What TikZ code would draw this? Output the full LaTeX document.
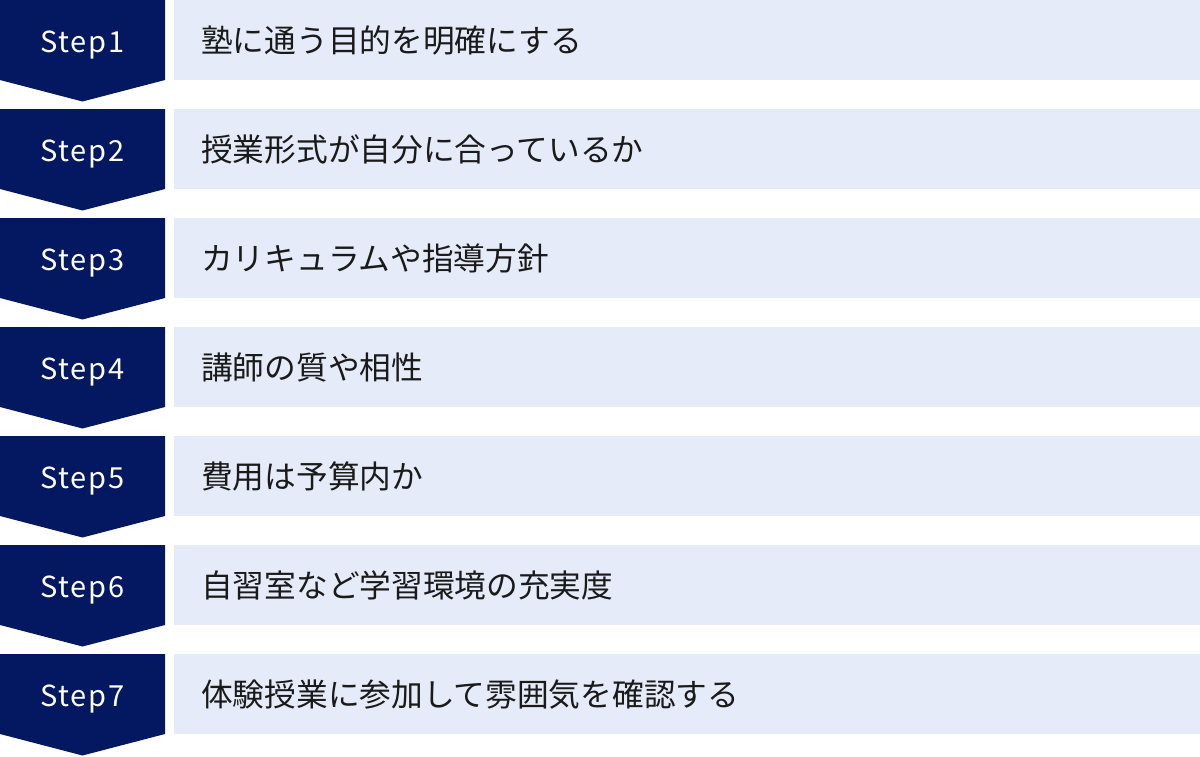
\documentclass[tikz,border=0pt]{standalone}
\usepackage{fontspec}
\setmainfont{Noto Sans CJK JP}
\newfontfamily\stepfont[LetterSpace=6]{Noto Sans CJK JP}
\definecolor{navy}{HTML}{041761}
\definecolor{pale}{HTML}{E5EBF8}
\definecolor{ink}{HTML}{1A1A1A}
\tikzset{
  stepbadge/.style={fill=navy, draw=none},
  itembox/.style={fill=pale, draw=none, minimum width=1026pt, minimum height=80pt, inner sep=0pt, outer sep=0pt, anchor=north west},
  itemtext/.style={anchor=base west, text=ink, font=\fontsize{31.7pt}{36pt}\selectfont, inner sep=0pt},
  steplabel/.style={anchor=base, text=white, font=\stepfont\fontsize{29pt}{32pt}\selectfont, inner sep=0pt}
}
\begin{document}
\begin{tikzpicture}[x=1pt,y=-1pt]
\useasboundingbox (0,0) rectangle (1200,756);
\foreach \i/\t in {1/塾に通う目的を明確にする,2/授業形式が自分に合っているか,3/カリキュラムや指導方針,4/講師の質や相性,5/費用は予算内か,6/自習室など学習環境の充実度,7/体験授業に参加して雰囲気を確認する}{
  \pgfmathsetmacro{\y}{(\i-1)*109}
  \fill[stepbadge] (0,\y) -- (165,\y) -- (165,\y+80) -- (82.5,\y+101.5) -- (0,\y+80) -- cycle;
  \node[steplabel] (s\i) at (82.5,\y+52.3) {Step\i};
  \node[itembox] (b\i) at (174,\y) {};
  \node[itemtext] (t\i) at (201,\y+52.5) {\t};
}
\end{tikzpicture}
\end{document}
